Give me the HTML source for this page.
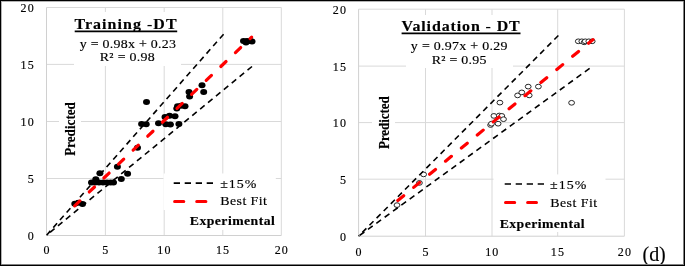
<!DOCTYPE html><html><head><meta charset="utf-8"><style>html,body{margin:0;padding:0;background:#fff;}svg{display:block;filter:blur(0.4px);}text{font-family:"Liberation Serif",serif;stroke:#000;stroke-width:0.15px;}</style></head><body>
<svg width="685" height="266" viewBox="0 0 685 266">
<rect x="0" y="0" width="685" height="266" fill="#fff"/>
<line x1="105.4" y1="7.5" x2="105.4" y2="235.5" stroke="#d9d9d9" stroke-width="1"/>
<line x1="164.2" y1="7.5" x2="164.2" y2="235.5" stroke="#d9d9d9" stroke-width="1"/>
<line x1="222.8" y1="7.5" x2="222.8" y2="235.5" stroke="#d9d9d9" stroke-width="1"/>
<line x1="281.3" y1="7.5" x2="281.3" y2="235.5" stroke="#d9d9d9" stroke-width="1"/>
<line x1="46.5" y1="178.5" x2="281.3" y2="178.5" stroke="#d9d9d9" stroke-width="1"/>
<line x1="46.5" y1="121.5" x2="281.3" y2="121.5" stroke="#d9d9d9" stroke-width="1"/>
<line x1="46.5" y1="64.4" x2="281.3" y2="64.4" stroke="#d9d9d9" stroke-width="1"/>
<line x1="46.5" y1="7.5" x2="281.3" y2="7.5" stroke="#d9d9d9" stroke-width="1"/>
<line x1="46.5" y1="7.5" x2="46.5" y2="235.5" stroke="#d0d0d0" stroke-width="1"/>
<line x1="46.5" y1="235.5" x2="281.3" y2="235.5" stroke="#d0d0d0" stroke-width="1"/>
<rect x="74" y="12" width="107" height="54" fill="#fff"/>
<rect x="59" y="98" width="22" height="62" fill="#fff"/>
<rect x="163.5" y="173.5" width="112.30000000000001" height="36.5" fill="#fff"/>
<rect x="186" y="210" width="93" height="19.900000000000006" fill="#fff"/>
<text x="27.68" y="239.70" font-size="12" letter-spacing="1.2" fill="#000">0</text>
<text x="43.50" y="254.00" font-size="12" letter-spacing="1.2" fill="#000">0</text>
<text x="27.68" y="182.70" font-size="12" letter-spacing="1.2" fill="#000">5</text>
<text x="102.28" y="254.00" font-size="12" letter-spacing="1.2" fill="#000">5</text>
<text x="20.48" y="125.70" font-size="12" letter-spacing="1.2" fill="#000">10</text>
<text x="157.33" y="254.00" font-size="12" letter-spacing="1.2" fill="#000">10</text>
<text x="20.48" y="68.60" font-size="12" letter-spacing="1.2" fill="#000">15</text>
<text x="215.93" y="254.00" font-size="12" letter-spacing="1.2" fill="#000">15</text>
<text x="20.48" y="11.70" font-size="12" letter-spacing="1.2" fill="#000">20</text>
<text x="274.67" y="254.00" font-size="12" letter-spacing="1.2" fill="#000">20</text>
<ellipse cx="74.8" cy="203.8" rx="3.5" ry="3.0" fill="#000"/>
<ellipse cx="78.5" cy="202.8" rx="3.5" ry="3.0" fill="#000"/>
<ellipse cx="82.5" cy="204" rx="3.5" ry="3.0" fill="#000"/>
<ellipse cx="91.5" cy="182.5" rx="3.5" ry="3.0" fill="#000"/>
<ellipse cx="95" cy="182.5" rx="3.5" ry="3.0" fill="#000"/>
<ellipse cx="99" cy="182.5" rx="3.5" ry="3.0" fill="#000"/>
<ellipse cx="103" cy="182.5" rx="3.5" ry="3.0" fill="#000"/>
<ellipse cx="107" cy="182.5" rx="3.5" ry="3.0" fill="#000"/>
<ellipse cx="110.5" cy="182.5" rx="3.5" ry="3.0" fill="#000"/>
<ellipse cx="113.5" cy="182.5" rx="3.5" ry="3.0" fill="#000"/>
<ellipse cx="95.8" cy="179.3" rx="3.5" ry="3.0" fill="#000"/>
<ellipse cx="99.9" cy="173.3" rx="3.5" ry="3.0" fill="#000"/>
<ellipse cx="117.4" cy="166.8" rx="3.5" ry="3.0" fill="#000"/>
<ellipse cx="121.3" cy="179.1" rx="3.5" ry="3.0" fill="#000"/>
<ellipse cx="127.6" cy="173.7" rx="3.5" ry="3.0" fill="#000"/>
<ellipse cx="137.5" cy="147.8" rx="3.5" ry="3.0" fill="#000"/>
<ellipse cx="141.6" cy="124" rx="3.5" ry="3.0" fill="#000"/>
<ellipse cx="146.2" cy="124.2" rx="3.5" ry="3.0" fill="#000"/>
<ellipse cx="146.5" cy="101.9" rx="3.5" ry="3.0" fill="#000"/>
<ellipse cx="158.5" cy="123.2" rx="3.5" ry="3.0" fill="#000"/>
<ellipse cx="165.8" cy="124.3" rx="3.5" ry="3.0" fill="#000"/>
<ellipse cx="170.4" cy="124.4" rx="3.5" ry="3.0" fill="#000"/>
<ellipse cx="178.9" cy="124.1" rx="3.5" ry="3.0" fill="#000"/>
<ellipse cx="165" cy="117" rx="3.5" ry="3.0" fill="#000"/>
<ellipse cx="169.5" cy="115.8" rx="3.5" ry="3.0" fill="#000"/>
<ellipse cx="175" cy="116.2" rx="3.5" ry="3.0" fill="#000"/>
<ellipse cx="176.8" cy="108.5" rx="3.5" ry="3.0" fill="#000"/>
<ellipse cx="177.5" cy="106.3" rx="3.5" ry="3.0" fill="#000"/>
<ellipse cx="181" cy="105.8" rx="3.5" ry="3.0" fill="#000"/>
<ellipse cx="185" cy="106.3" rx="3.5" ry="3.0" fill="#000"/>
<ellipse cx="189" cy="91.9" rx="3.5" ry="3.0" fill="#000"/>
<ellipse cx="189.6" cy="96.5" rx="3.5" ry="3.0" fill="#000"/>
<ellipse cx="202" cy="85.2" rx="3.5" ry="3.0" fill="#000"/>
<ellipse cx="203.7" cy="91.9" rx="3.5" ry="3.0" fill="#000"/>
<ellipse cx="243.5" cy="41.1" rx="3.5" ry="3.0" fill="#000"/>
<ellipse cx="247" cy="40.9" rx="3.5" ry="3.0" fill="#000"/>
<ellipse cx="250.5" cy="41.1" rx="3.5" ry="3.0" fill="#000"/>
<ellipse cx="252" cy="41.4" rx="3.5" ry="3.0" fill="#000"/>
<ellipse cx="246" cy="42.6" rx="3.5" ry="3.0" fill="#000"/>
<line x1="223.6" y1="34.2" x2="46.6" y2="235.2" stroke="#000" stroke-width="1.6" stroke-dasharray="5.7 4.38"/>
<line x1="252" y1="66.5" x2="46.6" y2="235.2" stroke="#000" stroke-width="1.6" stroke-dasharray="5.8 4.42"/>
<line x1="74.66" y1="205.90" x2="251.64" y2="37.10" stroke="#ff0000" stroke-width="3.2" stroke-dasharray="7.20 13.00" stroke-linecap="round"/>
<line x1="173.7" y1="183.1" x2="213" y2="183.1" stroke="#000" stroke-width="1.6" stroke-dasharray="6.3 4.7"/>
<line x1="174.6" y1="201.4" x2="205.9" y2="201.4" stroke="#ff0000" stroke-width="3.0" stroke-dasharray="9.20 12.90" stroke-linecap="round"/>
<text transform="translate(74.46,29.00) scale(1.1000,1)" font-size="14.5" font-weight="bold" letter-spacing="0.956" fill="#000">Training -DT</text>
<text transform="translate(79.76,47.50) scale(1.1600,1)" font-size="12" font-weight="normal" letter-spacing="0.225" fill="#000">y = 0.98x + 0.23</text>
<text transform="translate(99.78,61.30) scale(1.1600,1)" font-size="12" font-weight="normal" letter-spacing="0.265" fill="#000">R² = 0.98</text>
<text transform="translate(220.14,187.50) scale(1.1600,1)" font-size="12" font-weight="normal" letter-spacing="0.875" fill="#000">±15%</text>
<text transform="translate(220.28,205.30) scale(1.1600,1)" font-size="12" font-weight="normal" letter-spacing="0.363" fill="#000">Best Fit</text>
<text transform="translate(189.79,225.00) scale(1.1000,1)" font-size="12.5" font-weight="bold" letter-spacing="0.409" fill="#000">Experimental</text>
<text transform="translate(75.00,155.79) rotate(-90) scale(1,1.1)" font-size="13" font-weight="bold" letter-spacing="0.057" fill="#000">Predicted</text>
<line x1="74.7" y1="31.3" x2="177.2" y2="31.3" stroke="#000" stroke-width="1.8"/>
<line x1="425.5" y1="9.2" x2="425.5" y2="236.2" stroke="#d9d9d9" stroke-width="1"/>
<line x1="492" y1="9.2" x2="492" y2="236.2" stroke="#d9d9d9" stroke-width="1"/>
<line x1="557.7" y1="9.2" x2="557.7" y2="236.2" stroke="#d9d9d9" stroke-width="1"/>
<line x1="624.4" y1="9.2" x2="624.4" y2="236.2" stroke="#d9d9d9" stroke-width="1"/>
<line x1="358.6" y1="179.2" x2="624.4" y2="179.2" stroke="#d9d9d9" stroke-width="1"/>
<line x1="358.6" y1="122.6" x2="624.4" y2="122.6" stroke="#d9d9d9" stroke-width="1"/>
<line x1="358.6" y1="66.1" x2="624.4" y2="66.1" stroke="#d9d9d9" stroke-width="1"/>
<line x1="358.6" y1="9.2" x2="624.4" y2="9.2" stroke="#d9d9d9" stroke-width="1"/>
<line x1="358.6" y1="9.2" x2="358.6" y2="236.2" stroke="#d0d0d0" stroke-width="1"/>
<line x1="358.6" y1="236.2" x2="624.4" y2="236.2" stroke="#d0d0d0" stroke-width="1"/>
<rect x="406" y="15" width="107" height="53" fill="#fff"/>
<rect x="372" y="92" width="23" height="62" fill="#fff"/>
<rect x="493.5" y="174.4" width="112.0" height="35.599999999999994" fill="#fff"/>
<rect x="495" y="210" width="105" height="22" fill="#fff"/>
<text x="339.98" y="240.70" font-size="12" letter-spacing="1.2" fill="#000">0</text>
<text x="355.60" y="255.50" font-size="12" letter-spacing="1.2" fill="#000">0</text>
<text x="339.98" y="183.70" font-size="12" letter-spacing="1.2" fill="#000">5</text>
<text x="422.38" y="255.50" font-size="12" letter-spacing="1.2" fill="#000">5</text>
<text x="332.78" y="127.10" font-size="12" letter-spacing="1.2" fill="#000">10</text>
<text x="485.13" y="255.50" font-size="12" letter-spacing="1.2" fill="#000">10</text>
<text x="332.78" y="70.60" font-size="12" letter-spacing="1.2" fill="#000">15</text>
<text x="550.83" y="255.50" font-size="12" letter-spacing="1.2" fill="#000">15</text>
<text x="332.78" y="13.70" font-size="12" letter-spacing="1.2" fill="#000">20</text>
<text x="617.77" y="255.50" font-size="12" letter-spacing="1.2" fill="#000">20</text>
<ellipse cx="397" cy="205.1" rx="2.9" ry="2.35" fill="#fff" stroke="#1a1a1a" stroke-width="0.95"/>
<ellipse cx="419.4" cy="182.9" rx="2.9" ry="2.35" fill="#fff" stroke="#1a1a1a" stroke-width="0.95"/>
<ellipse cx="423.6" cy="174.4" rx="2.9" ry="2.35" fill="#fff" stroke="#1a1a1a" stroke-width="0.95"/>
<ellipse cx="490.6" cy="125" rx="2.9" ry="2.35" fill="#fff" stroke="#1a1a1a" stroke-width="0.95"/>
<ellipse cx="491.5" cy="123.7" rx="2.9" ry="2.35" fill="#fff" stroke="#1a1a1a" stroke-width="0.95"/>
<ellipse cx="498.1" cy="123.7" rx="2.9" ry="2.35" fill="#fff" stroke="#1a1a1a" stroke-width="0.95"/>
<ellipse cx="493.9" cy="115.9" rx="2.9" ry="2.35" fill="#fff" stroke="#1a1a1a" stroke-width="0.95"/>
<ellipse cx="499.3" cy="115.5" rx="2.9" ry="2.35" fill="#fff" stroke="#1a1a1a" stroke-width="0.95"/>
<ellipse cx="501.8" cy="115.9" rx="2.9" ry="2.35" fill="#fff" stroke="#1a1a1a" stroke-width="0.95"/>
<ellipse cx="503.5" cy="119.2" rx="2.9" ry="2.35" fill="#fff" stroke="#1a1a1a" stroke-width="0.95"/>
<ellipse cx="499.9" cy="102.6" rx="2.9" ry="2.35" fill="#fff" stroke="#1a1a1a" stroke-width="0.95"/>
<ellipse cx="517.6" cy="95.4" rx="2.9" ry="2.35" fill="#fff" stroke="#1a1a1a" stroke-width="0.95"/>
<ellipse cx="521.8" cy="92.4" rx="2.9" ry="2.35" fill="#fff" stroke="#1a1a1a" stroke-width="0.95"/>
<ellipse cx="528.2" cy="86.6" rx="2.9" ry="2.35" fill="#fff" stroke="#1a1a1a" stroke-width="0.95"/>
<ellipse cx="529.2" cy="95.4" rx="2.9" ry="2.35" fill="#fff" stroke="#1a1a1a" stroke-width="0.95"/>
<ellipse cx="538.4" cy="86.6" rx="2.9" ry="2.35" fill="#fff" stroke="#1a1a1a" stroke-width="0.95"/>
<ellipse cx="571.6" cy="102.8" rx="2.9" ry="2.35" fill="#fff" stroke="#1a1a1a" stroke-width="0.95"/>
<ellipse cx="578.3" cy="41.3" rx="2.9" ry="2.35" fill="#fff" stroke="#1a1a1a" stroke-width="0.95"/>
<ellipse cx="581.8" cy="41.3" rx="2.9" ry="2.35" fill="#fff" stroke="#1a1a1a" stroke-width="0.95"/>
<ellipse cx="584.2" cy="42.3" rx="2.9" ry="2.35" fill="#fff" stroke="#1a1a1a" stroke-width="0.95"/>
<ellipse cx="585.3" cy="41.3" rx="2.9" ry="2.35" fill="#fff" stroke="#1a1a1a" stroke-width="0.95"/>
<ellipse cx="588.8" cy="41.3" rx="2.9" ry="2.35" fill="#fff" stroke="#1a1a1a" stroke-width="0.95"/>
<ellipse cx="592.2" cy="41.3" rx="2.9" ry="2.35" fill="#fff" stroke="#1a1a1a" stroke-width="0.95"/>
<line x1="558.4" y1="35.5" x2="358.6" y2="236.2" stroke="#000" stroke-width="1.6" stroke-dasharray="5.7 4.38"/>
<line x1="589.6" y1="68.4" x2="358.6" y2="236.2" stroke="#000" stroke-width="1.6" stroke-dasharray="5.85 4.46"/>
<line x1="397.83" y1="200.48" x2="592.97" y2="39.62" stroke="#ff0000" stroke-width="3.2" stroke-dasharray="7.60 13.00" stroke-linecap="round"/>
<line x1="504.7" y1="184" x2="544" y2="184" stroke="#000" stroke-width="1.6" stroke-dasharray="6.3 4.7"/>
<line x1="505.5" y1="202.4" x2="536.5" y2="202.4" stroke="#ff0000" stroke-width="3.0" stroke-dasharray="9.20 12.90" stroke-linecap="round"/>
<text transform="translate(401.44,31.30) scale(1.1000,1)" font-size="14.5" font-weight="bold" letter-spacing="0.815" fill="#000">Validation - DT</text>
<text transform="translate(410.86,49.70) scale(1.1600,1)" font-size="12" font-weight="normal" letter-spacing="0.253" fill="#000">y = 0.97x + 0.29</text>
<text transform="translate(431.68,64.20) scale(1.1600,1)" font-size="12" font-weight="normal" letter-spacing="0.243" fill="#000">R² = 0.95</text>
<text transform="translate(550.04,189.00) scale(1.1600,1)" font-size="12" font-weight="normal" letter-spacing="0.875" fill="#000">±15%</text>
<text transform="translate(550.18,207.00) scale(1.1600,1)" font-size="12" font-weight="normal" letter-spacing="0.400" fill="#000">Best Fit</text>
<text transform="translate(499.69,227.50) scale(1.1000,1)" font-size="12.5" font-weight="bold" letter-spacing="0.393" fill="#000">Experimental</text>
<text transform="translate(389.00,149.00) rotate(-90) scale(1,1.1)" font-size="13" font-weight="bold" letter-spacing="-0.056" fill="#000">Predicted</text>
<line x1="401.6" y1="33.4" x2="520.5" y2="33.4" stroke="#000" stroke-width="1.8"/>
<text transform="translate(642.60,260.80) scale(1.0000,1)" font-size="20" font-weight="normal" letter-spacing="-0.100" fill="#000">(d)</text>
<rect x="0" y="0" width="685" height="1" fill="#000"/><rect x="0" y="1" width="685" height="1" fill="#b3b3b3"/>
<rect x="0" y="0" width="1" height="266" fill="#000"/><rect x="1" y="1" width="1" height="264" fill="#b3b3b3"/>
<rect x="684" y="0" width="1" height="266" fill="#000"/><rect x="683" y="1" width="1" height="264" fill="#808080"/>
<rect x="0" y="265" width="685" height="1" fill="#000"/><rect x="1" y="264" width="683" height="1" fill="#808080"/>
</svg></body></html>
